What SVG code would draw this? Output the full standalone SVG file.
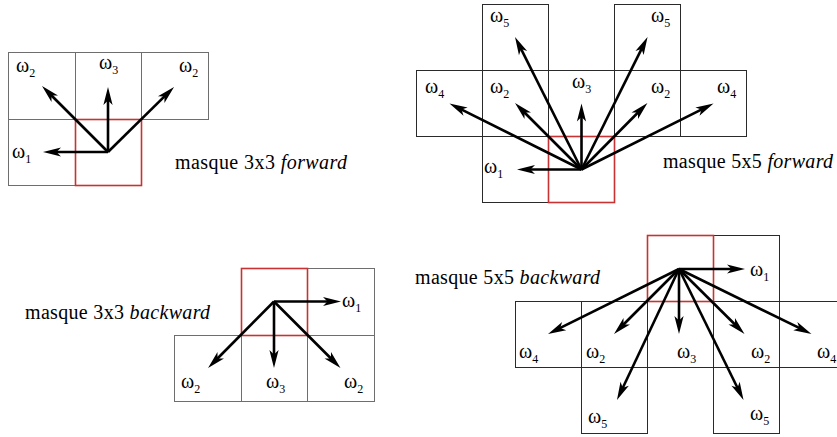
<svg xmlns="http://www.w3.org/2000/svg" width="837" height="437" viewBox="0 0 837 437">
<style>
.c{fill:#fff;stroke:#6e6e6e;stroke-width:1}
.d{fill:#fff;stroke:#2a2a2a;stroke-width:1}
.r{fill:none;stroke:#c83232;stroke-width:1.6}
.a{fill:none;stroke:#000;stroke-width:2.6;marker-end:url(#ah)}
.w{font-family:"Liberation Serif","Times New Roman",serif;font-size:20px;fill:#000}
.s{font-size:12px}
.t{font-family:"Liberation Serif","Times New Roman",serif;font-size:20px;fill:#000}
.i{font-style:italic}
</style>
<defs>
<marker id="ah" markerUnits="userSpaceOnUse" viewBox="-8 -6 22 12" refX="0" refY="0" markerWidth="22" markerHeight="12" orient="auto">
<path d="M12,0 L-6,-4.6 L-1.5,0 L-6,4.6 Z" fill="#000"/>
</marker>
</defs>
<rect width="837" height="437" fill="#fff"/>

<!-- Q1: masque 3x3 forward -->
<g id="f3-c00"><rect class="c" x="8.5" y="52.5" width="67" height="67"/><text class="w" x="16" y="72">ω<tspan class="s" dy="5">2</tspan></text></g>
<g id="f3-c01"><rect class="c" x="75.5" y="52.5" width="66" height="67"/><text class="w" x="99" y="69">ω<tspan class="s" dy="5">3</tspan></text></g>
<g id="f3-c02"><rect class="c" x="141.5" y="52.5" width="67" height="67"/><text class="w" x="179" y="72">ω<tspan class="s" dy="5">2</tspan></text></g>
<g id="f3-c10"><rect class="c" x="8.5" y="119.5" width="67" height="66"/><text class="w" x="12" y="158">ω<tspan class="s" dy="5">1</tspan></text></g>
<g id="f3-center"><rect class="r" x="75.5" y="119.5" width="66" height="66"/></g>
<g id="f3-title"><text class="t" x="175" y="169" textLength="172" lengthAdjust="spacing">masque 3x3 <tspan class="i">forward</tspan></text></g>

<!-- Q2: masque 5x5 forward -->
<g id="f5-c01"><rect class="d" x="482.5" y="4.5" width="66" height="66"/><text class="w" x="490" y="22">ω<tspan class="s" dy="5">5</tspan></text></g>
<g id="f5-c03"><rect class="d" x="614.5" y="4.5" width="66" height="66"/><text class="w" x="651" y="22">ω<tspan class="s" dy="5">5</tspan></text></g>
<g id="f5-c10"><rect class="d" x="416.5" y="70.5" width="66" height="66"/><text class="w" x="425" y="93">ω<tspan class="s" dy="5">4</tspan></text></g>
<g id="f5-c11"><rect class="d" x="482.5" y="70.5" width="66" height="66"/><text class="w" x="490" y="93">ω<tspan class="s" dy="5">2</tspan></text></g>
<g id="f5-c12"><rect class="d" x="548.5" y="70.5" width="66" height="66"/><text class="w" x="572" y="88">ω<tspan class="s" dy="5">3</tspan></text></g>
<g id="f5-c13"><rect class="d" x="614.5" y="70.5" width="66" height="66"/><text class="w" x="651" y="93">ω<tspan class="s" dy="5">2</tspan></text></g>
<g id="f5-c14"><rect class="d" x="680.5" y="70.5" width="66" height="66"/><text class="w" x="717" y="93">ω<tspan class="s" dy="5">4</tspan></text></g>
<g id="f5-c21"><rect class="d" x="482.5" y="136.5" width="66" height="66"/><text class="w" x="484" y="173">ω<tspan class="s" dy="5">1</tspan></text></g>
<g id="f5-center"><rect class="r" x="548.5" y="136.5" width="66" height="66"/></g>
<g id="f5-title"><text class="t" x="663" y="168" textLength="170" lengthAdjust="spacing">masque 5x5 <tspan class="i">forward</tspan></text></g>

<!-- Q3: masque 3x3 backward -->
<g id="b3-c02"><rect class="c" x="307.5" y="268.5" width="67" height="67"/><text class="w" x="342" y="307">ω<tspan class="s" dy="5">1</tspan></text></g>
<g id="b3-c10"><rect class="c" x="174.5" y="335.5" width="67" height="66"/><text class="w" x="181" y="388">ω<tspan class="s" dy="5">2</tspan></text></g>
<g id="b3-c11"><rect class="c" x="241.5" y="335.5" width="66" height="66"/><text class="w" x="266" y="388">ω<tspan class="s" dy="5">3</tspan></text></g>
<g id="b3-c12"><rect class="c" x="307.5" y="335.5" width="67" height="66"/><text class="w" x="344" y="388">ω<tspan class="s" dy="5">2</tspan></text></g>
<g id="b3-center"><rect class="r" x="241.5" y="268.5" width="66" height="67"/></g>
<g id="b3-title"><text class="t" x="25" y="319" textLength="185" lengthAdjust="spacing">masque 3x3 <tspan class="i">backward</tspan></text></g>

<!-- Q4: masque 5x5 backward -->
<g id="b5-c03"><rect class="d" x="713.5" y="235.5" width="66" height="66"/><text class="w" x="750" y="276">ω<tspan class="s" dy="5">1</tspan></text></g>
<g id="b5-c10"><rect class="d" x="515.5" y="301.5" width="66" height="66"/><text class="w" x="519" y="358">ω<tspan class="s" dy="5">4</tspan></text></g>
<g id="b5-c11"><rect class="d" x="581.5" y="301.5" width="66" height="66"/><text class="w" x="586" y="358">ω<tspan class="s" dy="5">2</tspan></text></g>
<g id="b5-c12"><rect class="d" x="647.5" y="301.5" width="66" height="66"/><text class="w" x="677" y="358">ω<tspan class="s" dy="5">3</tspan></text></g>
<g id="b5-c13"><rect class="d" x="713.5" y="301.5" width="66" height="66"/><text class="w" x="751" y="358">ω<tspan class="s" dy="5">2</tspan></text></g>
<g id="b5-c14"><rect class="d" x="779.5" y="301.5" width="66" height="66"/><text class="w" x="817" y="358">ω<tspan class="s" dy="5">4</tspan></text></g>
<g id="b5-c21"><rect class="d" x="581.5" y="367.5" width="66" height="66"/><text class="w" x="588" y="423">ω<tspan class="s" dy="5">5</tspan></text></g>
<g id="b5-c23"><rect class="d" x="713.5" y="367.5" width="66" height="66"/><text class="w" x="750" y="420">ω<tspan class="s" dy="5">5</tspan></text></g>
<g id="b5-center"><rect class="r" x="647.5" y="235.5" width="66" height="66"/></g>
<g id="b5-title"><text class="t" x="415" y="284" textLength="185" lengthAdjust="spacing">masque 5x5 <tspan class="i">backward</tspan></text></g>

<g id="connectors">
<!-- Q1 -->
<line class="a" x1="108" y1="152" x2="55" y2="152"/>
<line class="a" x1="108" y1="152" x2="50.5" y2="94.5"/>
<line class="a" x1="108" y1="152" x2="108" y2="99"/>
<line class="a" x1="108" y1="152" x2="165.5" y2="95.4"/>
<!-- Q2 -->
<line class="a" x1="581.5" y1="169.5" x2="529" y2="169.5"/>
<line class="a" x1="581.5" y1="169.5" x2="460.2" y2="108.9"/>
<line class="a" x1="581.5" y1="169.5" x2="523.5" y2="111.5"/>
<line class="a" x1="581.5" y1="169.5" x2="520.4" y2="47.7"/>
<line class="a" x1="581.5" y1="169.5" x2="581.5" y2="115.5"/>
<line class="a" x1="581.5" y1="169.5" x2="642.2" y2="47.7"/>
<line class="a" x1="581.5" y1="169.5" x2="639" y2="111.5"/>
<line class="a" x1="581.5" y1="169.5" x2="702.8" y2="108.9"/>
<!-- Q3 -->
<line class="a" x1="274" y1="301.5" x2="329" y2="301.5"/>
<line class="a" x1="274" y1="301.5" x2="216.5" y2="359.5"/>
<line class="a" x1="274" y1="301.5" x2="274" y2="356"/>
<line class="a" x1="274" y1="301.5" x2="332" y2="359.5"/>
<!-- Q4 -->
<line class="a" x1="679" y1="269" x2="733" y2="269"/>
<line class="a" x1="679" y1="269" x2="558.8" y2="328.7"/>
<line class="a" x1="679" y1="269" x2="622.5" y2="325.5"/>
<line class="a" x1="679" y1="269" x2="679" y2="322"/>
<line class="a" x1="679" y1="269" x2="736" y2="325.5"/>
<line class="a" x1="679" y1="269" x2="800.7" y2="328.7"/>
<line class="a" x1="679" y1="269" x2="622.1" y2="389.2"/>
<line class="a" x1="679" y1="269" x2="738.2" y2="389.2"/>
</g>
</svg>
